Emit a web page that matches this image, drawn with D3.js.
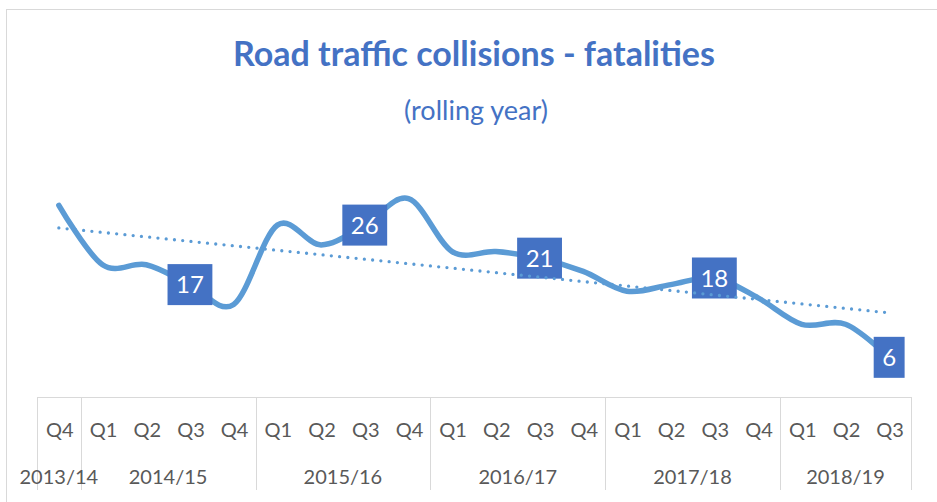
<!DOCTYPE html>
<html>
<head>
<meta charset="utf-8">
<script src="https://cdn.jsdelivr.net/npm/d3@7/dist/d3.min.js"></script>
<style>
  html, body { margin: 0; padding: 0; background: #fff; }
  svg { display: block; font-family: Lato, 'Open Sans', sans-serif; }
</style>
</head>
<body>
<div id="chart"></div>
<script>
// quarter labels, one per point
const quarters = ['Q4', 'Q1', 'Q2', 'Q3', 'Q4', 'Q1', 'Q2', 'Q3', 'Q4', 'Q1',
  'Q2', 'Q3', 'Q4', 'Q1', 'Q2', 'Q3', 'Q4', 'Q1', 'Q2', 'Q3'];
// financial years and how many quarters each one covers
const fiscalYears = ['2013/14', '2014/15', '2015/16', '2016/17', '2017/18', '2018/19'];
const quartersPerYear = [1, 4, 4, 4, 4, 3];
// rolling year fatalities
const fatalities = [29, 20, 20, 17, 14, 26, 23, 26, 30, 22, 22, 21, 19, 16, 17, 18, 15, 11, 11, 6];
// points that carry a data label
const labelled = [3, 7, 11, 15, 19];

const title = 'Road traffic collisions - fatalities';
const subtitle = '(rolling year)';

const width = 937;
const height = 502;
const blue = '#5b9bd5';
const dark = '#4472c4';
const grey = '#d9d9d9';
const textGrey = '#595959';

const svg = d3.select('#chart')
  .append('svg')
  .attr('width', width)
  .attr('height', height);

// chart frame
svg.append('rect')
  .attr('x', 6.5)
  .attr('y', 9.5)
  .attr('width', width + 20)
  .attr('height', height + 20)
  .attr('fill', '#fff')
  .attr('stroke', grey);

svg.append('text')
  .attr('x', 474)
  .attr('y', 66)
  .attr('text-anchor', 'middle')
  .attr('fill', dark)
  .attr('font-weight', 'bold')
  .attr('font-size', 34)
  .text(title);

svg.append('text')
  .attr('x', 476)
  .attr('y', 120)
  .attr('text-anchor', 'middle')
  .attr('fill', dark)
  .attr('font-size', 27)
  .text(subtitle);

const x = d3.scaleBand()
  .domain(d3.range(fatalities.length))
  .range([37, 911]);

const y = d3.scaleLinear()
  .domain([0, 35])
  .range([397, 165.6]);

const cx = i => x(i) + x.bandwidth() / 2;

// category axis: top line, quarter labels, year groups
const axis = svg.append('g');

axis.append('line')
  .attr('x1', x.range()[0]).attr('x2', x.range()[1])
  .attr('y1', y(0) + 0.5).attr('y2', y(0) + 0.5)
  .attr('stroke', grey);

axis.selectAll('.q')
  .data(quarters)
  .enter()
  .append('text')
  .attr('x', (d, i) => cx(i) + 1)
  .attr('y', 437)
  .attr('text-anchor', 'middle')
  .attr('fill', textGrey)
  .attr('font-size', 20)
  .text(d => d);

let start = 0;
const groups = fiscalYears.map((label, k) => {
  const g = {label: label, from: start, to: start + quartersPerYear[k]};
  start += quartersPerYear[k];
  return g;
});

const bounds = [0].concat(groups.map(g => g.to));
axis.selectAll('.sep')
  .data(bounds)
  .enter()
  .append('line')
  .attr('x1', d => Math.round(d < fatalities.length ? x(d) : x.range()[1]) + 0.5)
  .attr('x2', d => Math.round(d < fatalities.length ? x(d) : x.range()[1]) + 0.5)
  .attr('y1', y(0))
  .attr('y2', 490)
  .attr('stroke', grey);

axis.selectAll('.yr')
  .data(groups)
  .enter()
  .append('text')
  .attr('x', g => (x(g.from) + x(g.to - 1) + x.bandwidth()) / 2)
  .attr('y', 484)
  .attr('text-anchor', 'middle')
  .attr('fill', textGrey)
  .attr('font-size', 20)
  .text(g => g.label);

// smoothed series line
const line = d3.line()
  .x((d, i) => cx(i))
  .y(d => y(d))
  .curve(d3.curveCardinal.tension(0));

svg.append('path')
  .datum(fatalities)
  .attr('d', line)
  .attr('fill', 'none')
  .attr('stroke', blue)
  .attr('stroke-width', 5.5)
  .attr('stroke-linecap', 'round');

// data labels
const lab = svg.selectAll('.lab')
  .data(labelled)
  .enter()
  .append('g')
  .attr('transform', i => 'translate(' + cx(i) + ',' + y(fatalities[i]) + ')');

lab.append('text')
  .attr('text-anchor', 'middle')
  .attr('dy', '0.36em')
  .attr('fill', '#fff')
  .attr('font-size', 24)
  .text(i => fatalities[i]);

lab.each(function() {
  const g = d3.select(this);
  const bb = g.select('text').node().getBBox();
  const w = bb.width + 17;
  g.insert('rect', 'text')
    .attr('x', -w / 2)
    .attr('y', -20.5)
    .attr('width', w)
    .attr('height', 41)
    .attr('fill', dark);
});

// linear trend line
const n = fatalities.length;
const mx = d3.mean(d3.range(n));
const my = d3.mean(fatalities);
const slope = d3.sum(fatalities, (v, i) => (i - mx) * (v - my)) /
  d3.sum(d3.range(n), i => (i - mx) * (i - mx));
const trend = [0, n - 1].map(i => ({i: i, v: my + slope * (i - mx)}));

svg.append('path')
  .datum(trend)
  .attr('d', d3.line().x(d => cx(d.i)).y(d => y(d.v)))
  .attr('fill', 'none')
  .attr('stroke', blue)
  .attr('stroke-width', 3.3)
  .attr('stroke-linecap', 'round')
  .attr('stroke-dasharray', '0 8.3');
</script>
</body>
</html>
